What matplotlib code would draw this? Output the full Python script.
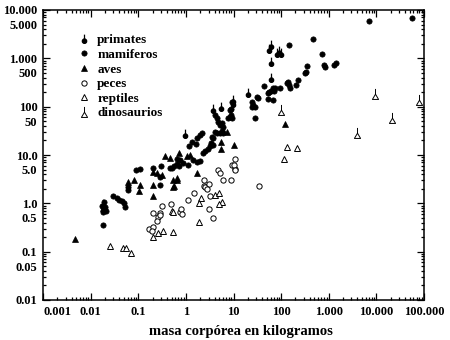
import matplotlib
matplotlib.use("Agg")
import matplotlib.pyplot as plt
from matplotlib.path import Path
from matplotlib.lines import Line2D
import numpy as np

# ---- data (body mass kg, brain mass g) ----
primates_x = [62, 55, 62, 82, 90, 100, 62, 20, 9.8, 9.8, 3.7, 5.5, 0.96, 0.018]
primates_y = [1900, 1550, 850, 1300, 1400, 1300, 400, 195, 138, 120, 88, 100, 27, 0.95]

mamiferos_x = [0.018, 0.017, 0.019, 0.02, 0.018, 0.021, 0.019, 0.03, 0.035, 0.04, 0.045, 0.05,
               0.052, 0.09, 0.062, 0.062, 0.28, 0.29, 0.11, 0.2, 0.3, 0.5,
               0.46, 0.55, 0.65, 0.72, 0.88, 1.1, 1.4, 1.7, 2.0, 0.65, 0.75, 2.3, 2.5, 2.9,
               3.2, 3.4, 3.7, 3.5, 3.7, 1.7, 2.0, 2.2, 1.35, 1.6, 1.15, 4.1, 4.5, 5.2, 5.7,
               6.0, 4.1, 4.5, 4.8, 5.2, 5.7, 6.0, 9, 9, 9.3, 9.3, 8.4, 7.7, 8.5, 25, 26, 28,
               24, 31, 33, 28, 43, 53, 67, 53, 62, 70, 67, 55, 75, 95, 135, 140, 145, 155,
               210, 230, 310, 335, 350, 730, 780, 850, 1300, 1450, 470, 147, 7000, 56000]
mamiferos_y = [0.35, 0.9, 0.75, 0.85, 0.65, 0.7, 1.05, 1.4, 1.3, 1.2, 1.1, 1.0,
               0.85, 5.0, 2.2, 1.9, 2.4, 3.5, 5.2, 5.5, 6.0, 5.5,
               5.5, 6.0, 6.5, 5.8, 6.9, 6.2, 7.9, 7.2, 7.5, 8.3, 7.9, 11, 12, 13,
               15, 18, 16, 24, 23, 23, 26, 28, 19, 17, 15, 30, 28, 28, 31,
               28, 68, 59, 48, 42, 46, 38, 90, 68, 59, 126, 86, 59, 62, 126, 110, 100,
               100, 160, 150, 59, 270, 145, 138, 196, 206, 216, 240, 200, 245, 240, 310, 326, 280, 242,
               280, 360, 500, 525, 700, 1240, 740, 670, 740, 810, 2500, 1900, 6000, 6900]

aves_x = [0.0047, 0.018, 0.06, 0.08, 0.11, 0.105, 0.2, 0.2, 0.54, 0.65, 1.7, 0.2, 0.25,
          0.36, 0.47, 1.05, 1.2, 0.72, 5.5, 5.5, 10, 7.3, 120, 0.31, 0.54, 0.65, 0.56]
aves_y = [0.18, 0.8, 2.8, 3.0, 2.4, 1.8, 1.4, 2.4, 2.2, 3.1, 4.3, 4.5, 4.3,
          9.4, 8.8, 9.4, 10, 11, 19, 13, 16, 30, 44, 3.9, 3.0, 3.4, 2.3]

peces_x = [0.2, 0.17, 0.2, 0.19, 0.26, 0.29, 0.31, 0.25, 0.29, 0.49, 0.75, 0.8, 0.83, 1.1,
           1.5, 2.4, 2.4, 2.5, 3.0, 2.8, 3.2, 3.0, 3.7, 4.8, 5.2, 6.0, 8.9, 9.3, 11, 11,
           10, 11, 34]
peces_y = [0.63, 0.30, 0.32, 0.27, 0.52, 0.63, 0.88, 0.43, 0.57, 0.95, 0.65, 0.78, 0.6, 1.2,
           1.64, 3.0, 2.3, 2.2, 2.5, 2.0, 1.4, 0.77, 0.5, 4.9, 4.3, 3.0, 3.0, 6.2, 5.2, 8.3,
           6.2, 4.9, 2.3]

reptiles_x = [0.025, 0.048, 0.055, 0.07, 0.2, 0.26, 0.33, 0.54, 0.51, 0.54, 1.9, 2.1, 1.9,
              4.1, 5.0, 5.8, 5.0, 134, 217, 115]
reptiles_y = [0.13, 0.12, 0.12, 0.095, 0.2, 0.24, 0.27, 0.26, 0.7, 0.66, 0.41, 1.3, 1.0,
              1.5, 1.6, 1.05, 0.97, 14.7, 14.2, 8.3]

dino_x = [100, 9400, 4000, 21000, 79000]
dino_y = [85, 185, 29, 59, 138]

labels = ["primates", "mamiferos", "aves", "peces", "reptiles", "dinosaurios"]

x_ticks = [0.001, 0.01, 0.1, 1, 10, 100, 1000, 10000, 100000]
x_ticklabels = ["0.001", "0.01", "0.1", "1", "10", "100", "1.000", "10.000", "100.000"]
y_major = [0.01, 0.1, 1, 10, 100, 1000, 10000]
y_major_labels = ["0.01", "0.1", "1.0", "10.0", "100", "1.000", "10.000"]
y_five = [0.05, 0.5, 5, 50, 500, 5000]
y_five_labels = ["0.05", "0.5", "5.0", "50", "500", "5.000"]

# ---- custom markers ----
circ = Path.circle((0, -0.35), 0.45)
stem = Path([(0, 0.05), (0, 1.0)], [Path.MOVETO, Path.LINETO])
primate_marker = Path.make_compound_path(circ, stem)
tri = Path([(-0.5, -0.8), (0.5, -0.8), (0, 0.05), (-0.5, -0.8)],
           [Path.MOVETO, Path.LINETO, Path.LINETO, Path.CLOSEPOLY])
dino_marker = Path.make_compound_path(tri, Path([(0, 0.05), (0, 0.9)], [Path.MOVETO, Path.LINETO]))

font = "Liberation Serif"
plt.rcParams["font.family"] = [font, "DejaVu Serif"]
plt.rcParams["font.weight"] = "bold"

fig = plt.figure(figsize=(4.5, 3.4), dpi=100)
ax = fig.add_axes([43 / 450, 40 / 340, 381 / 450, 290 / 340])
ax.set_xscale("log")
ax.set_yscale("log")
ax.set_xlim(0.001, 100000)
ax.set_ylim(0.01, 10000)

styles = [
    dict(marker=primate_marker, ms=7, mfc="black", mec="black", mew=0.9),
    dict(marker="o", ms=3.8, mfc="black", mec="black", mew=0.5),
    dict(marker="^", ms=4.2, mfc="black", mec="black", mew=0.5),
    dict(marker="o", ms=3.8, mfc="white", mec="black", mew=0.7),
    dict(marker="^", ms=4.2, mfc="white", mec="black", mew=0.7),
    dict(marker=dino_marker, ms=8, mfc="white", mec="black", mew=0.7),
]
series = [(primates_x, primates_y), (mamiferos_x, mamiferos_y), (aves_x, aves_y),
          (peces_x, peces_y), (reptiles_x, reptiles_y), (dino_x, dino_y)]
order = [1, 2, 3, 4, 0, 5]
for i in order:
    xs, ys = series[i]
    ax.plot(xs, ys, linestyle="none", zorder=3, **styles[i])

handles = [Line2D([], [], linestyle="none", **styles[i]) for i in range(6)]
leg = ax.legend(handles, labels, loc="upper left", bbox_to_anchor=(0.08, 0.935),
                frameon=False, handlelength=0.8, handletextpad=0.6, labelspacing=0.18,
                borderaxespad=0, prop=dict(family=font, weight="bold", size=9.5))

ax.set_xticks(x_ticks, x_ticklabels)
ax.set_xticks([m * 10.0 ** e for e in range(-3, 5) for m in range(2, 10)], minor=True)
ax.set_yticks(y_major, y_major_labels)
minor_y = [m * 10.0 ** e for e in range(-2, 4) for m in range(2, 10)]
minor_lab = []
for v in minor_y:
    lab = ""
    for f, l in zip(y_five, y_five_labels):
        if abs(v - f) / f < 1e-6:
            lab = l
    minor_lab.append(lab)
ax.set_yticks(minor_y, minor_lab, minor=True)

ax.tick_params(which="both", direction="in", top=True, right=True, width=0.9)
ax.tick_params(which="major", length=5)
ax.tick_params(which="minor", length=2.5)
ax.tick_params(axis="y", which="both", pad=4, labelsize=9)
ax.tick_params(axis="x", which="both", pad=4, labelsize=9)
for t in ax.get_xticklabels() + ax.get_yticklabels() + ax.get_yticklabels(minor=True):
    t.set_fontweight("bold")
ax.get_xticklabels()[0].set_horizontalalignment("left")

for s in ax.spines.values():
    s.set_linewidth(1.1)

ax.set_xlabel("masa corpórea en kilogramos", fontsize=10.5, fontweight="bold", labelpad=8)
ax.xaxis.set_label_coords(0.52, -0.086)

fig.savefig("out.png", dpi=100)
